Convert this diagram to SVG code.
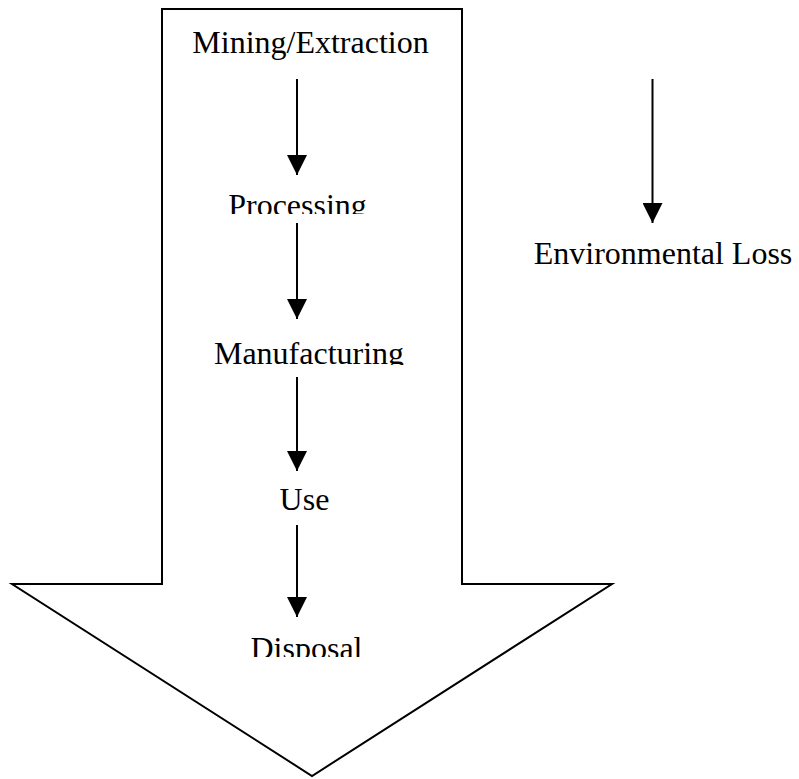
<svg xmlns="http://www.w3.org/2000/svg" width="799" height="779" viewBox="0 0 799 779">
<style>
.lbl{font-family:"Liberation Serif","Times New Roman",serif;font-size:32px;fill:#000;text-anchor:middle}
.big{fill:#fff;stroke:#000;stroke-width:2;stroke-linejoin:miter}
.con{stroke:#000;stroke-width:2;fill:none;marker-end:url(#ah)}
</style>
<defs>
<marker id="ah" viewBox="0 0 20 20" refX="20" refY="10" markerWidth="20" markerHeight="20" markerUnits="userSpaceOnUse" orient="auto">
<path d="M0,0 L20,10 L0,20 Z" fill="#000"/>
</marker>
<clipPath id="c1"><rect x="150" y="180" width="300" height="34"/></clipPath>
<clipPath id="c2"><rect x="150" y="330" width="300" height="35"/></clipPath>
<clipPath id="c3"><rect x="150" y="478" width="300" height="34"/></clipPath>
<clipPath id="c4"><rect x="150" y="625" width="300" height="32"/></clipPath>
</defs>
<rect width="799" height="779" fill="#fff"/>
<g id="big-arrow">
<polygon class="big" points="162,9 462,9 462,584 612,584 312,776 12,584 162,584"/>
</g>
<g id="connectors">
<line class="con" x1="297" y1="79" x2="297" y2="175"/>
<line class="con" x1="297" y1="223" x2="297" y2="319"/>
<line class="con" x1="297" y1="377" x2="297" y2="471"/>
<line class="con" x1="297" y1="525" x2="297" y2="617"/>
<line class="con" x1="652.5" y1="79" x2="652.5" y2="223"/>
</g>
<g id="node-mining"><text class="lbl" x="310.5" y="53">Mining/Extraction</text></g>
<g id="node-processing" clip-path="url(#c1)"><text class="lbl" x="297.5" y="216">Processing</text></g>
<g id="node-manufacturing" clip-path="url(#c2)"><text class="lbl" x="309" y="364">Manufacturing</text></g>
<g id="node-use" clip-path="url(#c3)"><text class="lbl" x="304.5" y="510">Use</text></g>
<g id="node-disposal" clip-path="url(#c4)"><text class="lbl" x="306.5" y="659">Disposal</text></g>
<g id="node-environmental-loss"><text class="lbl" x="663" y="264">Environmental Loss</text></g>
</svg>
